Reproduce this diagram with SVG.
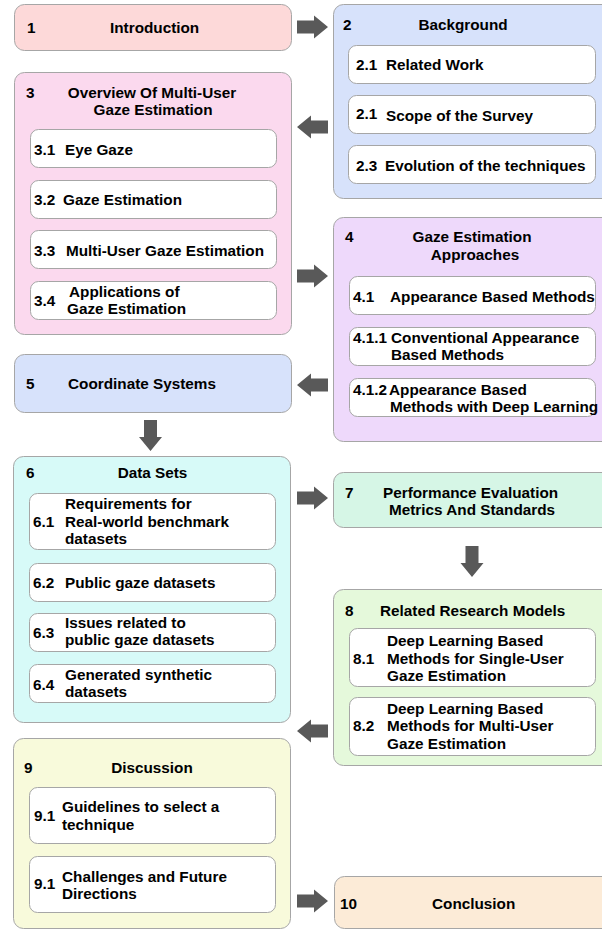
<svg xmlns="http://www.w3.org/2000/svg" xmlns:xlink="http://www.w3.org/1999/xlink" width="602" height="930" viewBox="0 0 602 930">
<style>
.box{stroke:#a6a6a6;stroke-width:1}
.sub{fill:#ffffff;stroke:#a6a6a6;stroke-width:1}
text{font-family:"Liberation Sans",Arial,sans-serif;font-weight:bold;font-size:15.3px;fill:#000}
.c{text-anchor:middle}
.arr{fill:#595959}
</style>
<defs>
<path id="ar" d="M0,-6.5 H17 V-11.5 L31,0 L17,11.5 V6.5 H0 Z"/>
</defs>
<rect width="602" height="930" fill="#ffffff"/>

<g id="connectors" class="arr">
<use xlink:href="#ar" transform="translate(297,27)"/>
<use xlink:href="#ar" transform="translate(328,127) scale(-1,1)"/>
<use xlink:href="#ar" transform="translate(297,276)"/>
<use xlink:href="#ar" transform="translate(328,385) scale(-1,1)"/>
<use xlink:href="#ar" transform="translate(150.5,420) rotate(90)"/>
<use xlink:href="#ar" transform="translate(297,498)"/>
<use xlink:href="#ar" transform="translate(472,546) rotate(90)"/>
<use xlink:href="#ar" transform="translate(328,731) scale(-1,1)"/>
<use xlink:href="#ar" transform="translate(297,901)"/>
</g>

<g id="n1">
<rect class="box" x="14.5" y="4.5" width="277" height="46" rx="10" fill="#fdd9d9"/>
<text x="27" y="33">1</text>
<text x="110" y="33">Introduction</text>
</g>

<g id="n2">
<rect class="box" x="333.5" y="4.5" width="290" height="194" rx="10" fill="#d7e2fb"/>
<text x="343" y="30">2</text>
<text class="c" x="463" y="30">Background</text>
<rect class="sub" x="348.5" y="45.5" width="247" height="38" rx="8"/>
<text x="356" y="70">2.1</text><text x="386" y="70">Related Work</text>
<rect class="sub" x="348.5" y="95.5" width="247" height="38" rx="8"/>
<text x="356" y="119">2.1</text><text x="386" y="121">Scope of the Survey</text>
<rect class="sub" x="348.5" y="145.5" width="247" height="38" rx="8"/>
<text x="356" y="171">2.3</text><text x="385" y="171">Evolution of the techniques</text>
</g>

<g id="n3">
<rect class="box" x="14.5" y="72.5" width="277" height="262" rx="10" fill="#fbd9ee"/>
<text x="26" y="98">3</text>
<text class="c" x="152" y="98">Overview Of Multi-User</text>
<text class="c" x="153" y="115">Gaze Estimation</text>
<rect class="sub" x="30.5" y="129.5" width="246" height="38" rx="8"/>
<text x="34" y="155">3.1</text><text x="65" y="155">Eye Gaze</text>
<rect class="sub" x="30.5" y="180.5" width="246" height="38" rx="8"/>
<text x="34" y="205">3.2</text><text x="63" y="205">Gaze Estimation</text>
<rect class="sub" x="30.5" y="230.5" width="246" height="38" rx="8"/>
<text x="34" y="256">3.3</text><text x="66" y="256">Multi-User Gaze Estimation</text>
<rect class="sub" x="30.5" y="281.5" width="246" height="38" rx="8"/>
<text x="34" y="306">3.4</text>
<text x="69" y="297">Applications of</text>
<text x="67" y="314">Gaze Estimation</text>
</g>

<g id="n4">
<rect class="box" x="333.5" y="217.5" width="290" height="224" rx="10" fill="#eed9fb"/>
<text x="345" y="242">4</text>
<text class="c" x="472" y="242">Gaze Estimation</text>
<text class="c" x="475" y="260">Approaches</text>
<rect class="sub" x="349.5" y="276.5" width="246" height="38" rx="8"/>
<text x="353" y="302">4.1</text><text x="390" y="302">Appearance Based Methods</text>
<rect class="sub" x="349.5" y="327.5" width="246" height="38" rx="8"/>
<text x="353" y="343">4.1.1</text>
<text x="391" y="343">Conventional Appearance</text>
<text x="391" y="360">Based Methods</text>
<rect class="sub" x="349.5" y="378.5" width="246" height="38" rx="8"/>
<text x="353" y="395">4.1.2</text>
<text x="389" y="395">Appearance Based</text>
<text x="390" y="412">Methods with Deep Learning</text>
</g>

<g id="n5">
<rect class="box" x="14.5" y="354.5" width="277" height="58" rx="10" fill="#d7e2fb"/>
<text x="26" y="389">5</text>
<text x="68" y="389">Coordinate Systems</text>
</g>

<g id="n6">
<rect class="box" x="13.5" y="456.5" width="277" height="266" rx="10" fill="#d7faf8"/>
<text x="26" y="478">6</text>
<text class="c" x="152.5" y="478">Data Sets</text>
<rect class="sub" x="29.5" y="493.5" width="246" height="56" rx="8"/>
<text x="33" y="527">6.1</text>
<text x="65" y="509">Requirements for</text>
<text x="65" y="527">Real-world benchmark</text>
<text x="65" y="544">datasets</text>
<rect class="sub" x="29.5" y="563.5" width="246" height="38" rx="8"/>
<text x="33" y="588">6.2</text><text x="65" y="588">Public gaze datasets</text>
<rect class="sub" x="29.5" y="613.5" width="246" height="38" rx="8"/>
<text x="33" y="638">6.3</text>
<text x="65" y="628">Issues related to</text>
<text x="65" y="645">public gaze datasets</text>
<rect class="sub" x="29.5" y="664.5" width="246" height="38" rx="8"/>
<text x="33" y="690">6.4</text>
<text x="65" y="680">Generated synthetic</text>
<text x="65" y="697">datasets</text>
</g>

<g id="n7">
<rect class="box" x="333.5" y="472.5" width="290" height="55" rx="10" fill="#d6f6e6"/>
<text x="345" y="498">7</text>
<text x="383" y="498">Performance Evaluation</text>
<text x="389" y="515">Metrics And Standards</text>
</g>

<g id="n8">
<rect class="box" x="333.5" y="589.5" width="290" height="176" rx="10" fill="#e5f9db"/>
<text x="345" y="616">8</text>
<text x="380" y="616">Related Research Models</text>
<rect class="sub" x="349.5" y="628.5" width="246" height="58" rx="8"/>
<text x="353" y="664">8.1</text>
<text x="387" y="646">Deep Learning Based</text>
<text x="387" y="664">Methods for Single-User</text>
<text x="387" y="681">Gaze Estimation</text>
<rect class="sub" x="349.5" y="697.5" width="246" height="58" rx="8"/>
<text x="353" y="731">8.2</text>
<text x="387" y="714">Deep Learning Based</text>
<text x="387" y="731">Methods for Multi-User</text>
<text x="387" y="749">Gaze Estimation</text>
</g>

<g id="n9">
<rect class="box" x="13.5" y="738.5" width="277" height="190" rx="10" fill="#f8fadb"/>
<text x="24" y="773">9</text>
<text class="c" x="152" y="773">Discussion</text>
<rect class="sub" x="29.5" y="787.5" width="246" height="56" rx="8"/>
<text x="34" y="821">9.1</text>
<text x="62" y="812">Guidelines to select a</text>
<text x="62" y="830">technique</text>
<rect class="sub" x="29.5" y="856.5" width="246" height="56" rx="8"/>
<text x="34" y="889">9.1</text>
<text x="62" y="882">Challenges and Future</text>
<text x="62" y="899">Directions</text>
</g>

<g id="n10">
<rect class="box" x="334.5" y="876.5" width="290" height="52" rx="10" fill="#fcebd7"/>
<text x="340" y="909">10</text>
<text x="432" y="909">Conclusion</text>
</g>
</svg>
